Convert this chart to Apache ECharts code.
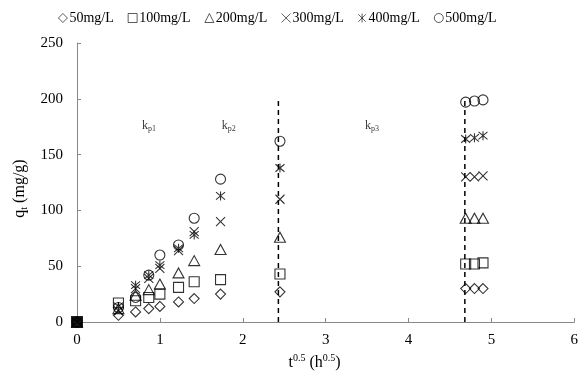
<!DOCTYPE html>
<html><head><meta charset="utf-8">
<script src="https://cdn.jsdelivr.net/npm/echarts@6/dist/echarts.min.js"></script>
<style>html,body{margin:0;padding:0;background:#fff}#c{width:581px;height:380px}</style>
</head><body><div id="c"></div>
<script>
// sqrt(t) values, h^0.5
const xVals = [0, 0.5, 0.707, 0.866, 1, 1.225, 1.414, 1.732, 2.449, 4.690, 4.796, 4.899];
const seriesNames = ['50mg/L', '100mg/L', '200mg/L', '300mg/L', '400mg/L', '500mg/L'];
const q50  = [0, 6, 9, 12, 14, 18, 21, 25, 27, 30, 30, 30];
const q100 = [0, 17, 19, 22, 25, 31, 36, 38, 43, 52, 52, 53];
const q200 = [0, 12, 24, 29, 34, 44, 55, 65, 76, 93, 93, 93];
const q300 = [0, 10, 30, 39, 48, 64, 81, 90, 110, 130, 130, 131];
const q400 = [0, 14, 33, 42, 51, 66, 78, 113, 138, 164, 165, 167];
const q500 = [0, 13, 22, 42, 60, 69, 93, 128, 162, 197, 198, 199];
const dashX = [2.43, 4.68];
const dashTop = [200, 200];
const kNames = ['p1', 'p2', 'p3'];
const kX = [0.87, 1.83, 3.56];
const kY = [176, 176, 176];

const FONT = '"Liberation Serif", "DejaVu Serif", serif';
const symbols = [
  'diamond', 'rect', 'triangle',
  'path://M0,0L10,10M10,0L0,10',
  'path://M0,0L10,10M10,0L0,10M5,-1L5,11',
  'circle'
];
const allQ = [q50, q100, q200, q300, q400, q500];

const series = allQ.map((arr, i) => ({
  name: seriesNames[i],
  type: 'scatter',
  symbol: symbols[i],
  symbolSize: i === 2 ? [11, 10] : (i === 3 || i === 4 ? 9 : 10),
  itemStyle: { color: 'rgba(255,255,255,0)', borderColor: '#000', borderWidth: 1.1 },
  data: xVals.map((x, j) => [x, arr[j]]),
  z: 3
}));

series.push({
  name: 'origin', type: 'scatter', symbol: 'rect', symbolSize: 12,
  itemStyle: { color: '#000' }, data: [[xVals[0], q50[0]]], z: 5, silent: true
});

dashX.forEach((x, i) => {
  series.push({
    name: 'dash' + i, type: 'line', symbol: 'none', silent: true,
    lineStyle: { color: '#000', width: 1.5, type: [5, 4] },
    data: [[x, 0], [x, dashTop[i]]], z: 2
  });
});

series.push({
  name: 'klabels', type: 'scatter', symbolSize: 0, silent: true,
  data: kX.map((x, i) => ({ value: [x, kY[i]] })),
  label: {
    show: true, position: 'inside',
    formatter: p => '{k|k}{s|' + kNames[p.dataIndex] + '}',
    rich: {
      k: { fontFamily: FONT, fontSize: 12, color: '#000', lineHeight: 15 },
      s: { fontFamily: FONT, fontSize: 8, color: '#000', verticalAlign: 'bottom', lineHeight: 15 }
    }
  }
});

const chart = echarts.init(document.getElementById('c'), null, { renderer: 'canvas' });
chart.setOption({
  animation: false,
  backgroundColor: '#fff',
  grid: { left: 77, right: 2, top: 43, bottom: 58 },
  legend: {
    data: seriesNames,
    left: 53, top: 6,
    itemWidth: 9, itemHeight: 9, itemGap: 14,
    itemStyle: { color: 'rgba(255,255,255,0)', borderColor: '#000', borderWidth: 0.8 },
    textStyle: { fontFamily: FONT, fontSize: 14, color: '#000', padding: [0, 0, 0, -3] }
  },
  xAxis: {
    type: 'value', min: 0, max: 6, interval: 1,
    name: '{t|t}{p|0.5}{t| (h}{p|0.5}{t|)}',
    nameLocation: 'middle', nameGap: 25,
    nameTextStyle: {
      padding: [0, 22, 0, 0],
      rich: {
        t: { fontFamily: FONT, fontSize: 16, color: '#000', lineHeight: 20 },
        p: { fontFamily: FONT, fontSize: 10, color: '#000', verticalAlign: 'top', lineHeight: 20 }
      }
    },
    axisLine: { lineStyle: { color: '#888', width: 1 } },
    axisTick: { inside: true, length: 4, lineStyle: { color: '#888' } },
    axisLabel: { fontFamily: FONT, fontSize: 15, color: '#000', margin: 11 },
    splitLine: { show: false }
  },
  yAxis: {
    type: 'value', min: 0, max: 250, interval: 50,
    name: '{t|q}{b|t}{t| (mg/g)}',
    nameLocation: 'middle', nameGap: 44,
    nameTextStyle: {
      padding: [0, 12, 0, 0],
      rich: {
        t: { fontFamily: FONT, fontSize: 16, color: '#000', lineHeight: 20 },
        b: { fontFamily: FONT, fontSize: 10, color: '#000', verticalAlign: 'bottom', lineHeight: 20 }
      }
    },
    axisLine: { show: true, lineStyle: { color: '#888', width: 1 } },
    axisTick: { show: true, inside: true, length: 4, lineStyle: { color: '#888' } },
    axisLabel: { fontFamily: FONT, fontSize: 15, color: '#000', margin: 14 },
    splitLine: { show: false }
  },
  series: series
});
</script>
</body></html>
